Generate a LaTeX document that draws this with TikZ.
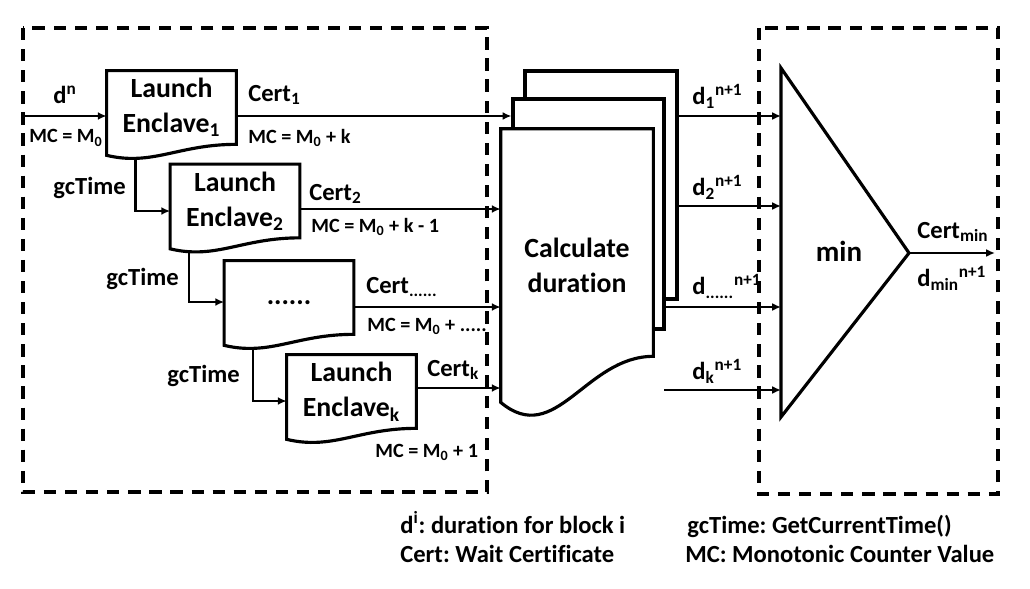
\documentclass[tikz,border=0pt]{standalone}
\usepackage{fontspec}
\setmainfont{Carlito}[Ligatures=CommonOff]
\usetikzlibrary{arrows.meta,calc}
\frenchspacing
\newcommand\bigtxt{\fontsize{15.8}{19.8}\selectfont\bfseries}
\newcommand\midtxt{\fontsize{14}{16.4}\selectfont\bfseries}
\newcommand\smalltxt{\fontsize{11.5}{13}\selectfont\bfseries}
\begin{document}
\begin{tikzpicture}
[x=0.02cm, y=-0.02cm, >={Latex[length=5pt,width=4.5pt]},
 doc/.style={inner sep=0pt, align=center, font=\bigtxt, minimum width=2.58cm, minimum height=1.46cm},
 page/.style={draw, line width=1.8pt, fill=white, minimum width=3.04cm, minimum height=4.56cm},
 lbl/.style={inner sep=0pt, anchor=west, font=\midtxt},
 mc/.style={inner sep=0pt, anchor=west, font=\smalltxt},
 outline/.style={line width=1.8pt},
 wire/.style={line width=1.5pt, ->},
 frame/.style={line width=2.3pt, dash pattern=on 7pt off 5pt}]
\useasboundingbox (0,0) rectangle (1030,588);
% dashed groups
\draw[frame] (23,28) rectangle (487,492);
\draw[frame] (759,28) rectangle (998,494);
% rows of the arrows
\coordinate (r1) at (0,116);
\coordinate (r2) at (0,209);
\coordinate (r3) at (0,307);
\coordinate (r4) at (0,388);
\coordinate (s2) at (0,206);
\coordinate (s4) at (0,390);
% stack of pages
\node[page] (back) at (601,185) {};
\node[page, minimum width=3.02cm, minimum height=4.6cm] (mid) at (588.5,214) {};
\node[minimum width=3.04cm, minimum height=4.54cm, inner sep=0pt] (front) at (577,242.5) {};
\draw[outline, fill=white] ($(front.south west)+(0,46)$) .. controls +(55,46) and +(-68,0) .. (front.south east) -- (front.north east) -- (front.north west) -- cycle;
\node[doc] (calctxt) at (577,265) {Calculate\\duration};
% enclaves
\node[doc] (le1) at (171.5,107.5) {Launch\\Enclave\textsubscript{1}};
\node[doc] (le2) at (235,201) {Launch\\Enclave\textsubscript{2}};
\node[doc] (led) at (289,297.5) {\vphantom{Lg}......};
\node[doc] (lek) at (351.5,391.5) {Launch\\Enclave\textsubscript{k}};
\foreach \n in {le1,le2,led,lek}
  \draw[outline] ($(\n.south west)+(0,11)$) .. controls +(46,11) and +(-58,0) .. (\n.south east) -- (\n.north east) -- (\n.north west) -- cycle;
% min
\coordinate (tl) at (781,68);
\coordinate (bl) at (781,417);
\coordinate (ap) at (909,253);
\coordinate (out) at (995,253);
\coordinate (in) at (23,116);
\coordinate (dk) at (664,390);
\draw[outline] (tl) -- (ap) -- (bl) -- cycle;
\node[doc, font=\fontsize{16.5}{19.8}\selectfont\bfseries] (min) at (839,251) {min};
% connectors
\draw[wire] (in) -- (le1.west |- in);
\draw[wire] (le1.east |- r1) -- (mid.west |- r1);
\draw[wire] (le2.east |- r2) -- (front.west |- r2);
\draw[wire] (led.east |- r3) -- (front.west |- r3);
\draw[wire] (lek.east |- r4) -- (front.west |- r4);
\draw[wire] ($(le1.south west)+(29,14)$) |- ($(le2.west)+(0,10)$);
\draw[wire] ($(le2.south west)+(19,14)$) |- ($(led.west)+(0,4.5)$);
\draw[wire] ($(led.south west)+(29,14)$) |- ($(lek.west)+(0,9.5)$);
\draw[wire] (back.east |- r1) -- (tl |- r1);
\draw[wire] (back.east |- s2) -- (tl |- s2);
\draw[wire] (mid.east |- r3) -- (tl |- r3);
\draw[wire] (dk) -- (tl |- s4);
\draw[wire] (ap) -- (out);
% labels
\node[lbl] (ldn) at (53,95) {d\textsuperscript{n}};
\node[mc] (lmc0) at (29,138) {MC = M\textsubscript{0}};
\node[lbl] (lc1) at (248,95) {Cert\textsubscript{1}};
\node[mc] (lmc1) at (248,138) {MC = M\textsubscript{0} + k};
\node[lbl] (lgc1) at (53,188) {gcTime};
\node[lbl] (lc2) at (309,194) {Cert\textsubscript{2}};
\node[mc] (lmc2) at (311,227) {MC = M\textsubscript{0} + k - 1};
\node[lbl] (lgc2) at (106,279) {gcTime};
\node[lbl] (lcd) at (366,287) {Cert\textsubscript{......}};
\node[mc] (lmcd) at (367,326) {MC = M\textsubscript{0} + .....};
\node[lbl] (lgc3) at (167,376) {gcTime};
\node[lbl] (lck) at (427,370) {Cert\textsubscript{k}};
\node[mc] (lmck) at (375,452) {MC = M\textsubscript{0} + 1};
\node[lbl] (ld1) at (692,96) {d\textsubscript{1}\textsuperscript{n+1}};
\node[lbl] (ld2) at (692,187) {d\textsubscript{2}\textsuperscript{n+1}};
\node[lbl] (ldd) at (692,286) {d\textsubscript{......}\textsuperscript{n+1}};
\node[lbl] (ldk) at (692,371) {d\textsubscript{k}\textsuperscript{n+1}};
\node[lbl] (lcmin) at (917,232) {Cert\textsubscript{min}};
\node[lbl] (ldmin) at (917,278) {d\textsubscript{min}\textsuperscript{n+1}};
% legend
\node[lbl, anchor=base west] (key1) at (400,533) {d\textsuperscript{i}: duration for block i};
\node[lbl, anchor=base west] (key2) at (400,562) {Cert: Wait Certificate};
\node[lbl, anchor=base west] (key3) at (687,533) {gcTime: GetCurrentTime()};
\node[lbl, anchor=base west] (key4) at (685,562) {MC: Monotonic Counter Value};
\end{tikzpicture}
\end{document}
